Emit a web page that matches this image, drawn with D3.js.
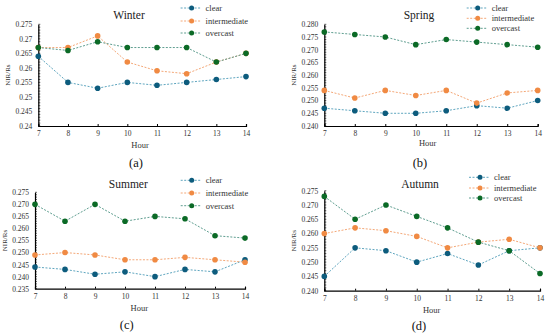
<!DOCTYPE html>
<html><head><meta charset="utf-8">
<script src="https://cdn.jsdelivr.net/npm/d3@7/dist/d3.min.js"></script>
<style>body{margin:0;background:#fff}svg{display:block}</style>
</head><body><svg id="c" width="550" height="336" font-family="'Liberation Serif', 'Times New Roman', Times, serif"></svg>
<script>
const hours = [7, 8, 9, 10, 11, 12, 13, 14];
const seriesNames = ["clear", "intermediate", "overcast"];
const seasons = ["Winter", "Spring", "Summer", "Autumn"];
const panelLabels = ["(a)", "(b)", "(c)", "(d)"];

const winterClear = [0.264, 0.255, 0.253, 0.255, 0.254, 0.255, 0.256, 0.257];
const winterIntermediate = [0.267, 0.267, 0.271, 0.262, 0.259, 0.258, 0.262, 0.265];
const winterOvercast = [0.267, 0.266, 0.269, 0.267, 0.267, 0.267, 0.262, 0.265];

const springClear = [0.247, 0.246, 0.245, 0.245, 0.246, 0.248, 0.247, 0.250];
const springIntermediate = [0.254, 0.251, 0.254, 0.252, 0.254, 0.249, 0.253, 0.254];
const springOvercast = [0.277, 0.276, 0.275, 0.272, 0.274, 0.273, 0.272, 0.271];

const summerClear = [0.244, 0.243, 0.241, 0.242, 0.240, 0.243, 0.242, 0.247];
const summerIntermediate = [0.249, 0.250, 0.249, 0.247, 0.247, 0.248, 0.247, 0.246];
const summerOvercast = [0.270, 0.263, 0.270, 0.263, 0.265, 0.264, 0.257, 0.256];

const autumnClear = [0.245, 0.255, 0.254, 0.250, 0.253, 0.249, 0.254, 0.255];
const autumnIntermediate = [0.260, 0.262, 0.261, 0.259, 0.255, 0.257, 0.258, 0.255];
const autumnOvercast = [0.273, 0.265, 0.270, 0.266, 0.262, 0.257, 0.254, 0.246];

const yDomains = [[0.240, 0.275], [0.240, 0.280], [0.235, 0.275], [0.240, 0.275]];
const yTickFormats = ["~g", ".3f", ".3f", ".3f"];

const seasonData = [
  [winterClear, winterIntermediate, winterOvercast],
  [springClear, springIntermediate, springOvercast],
  [summerClear, summerIntermediate, summerOvercast],
  [autumnClear, autumnIntermediate, autumnOvercast]
];

const markerColors = ["#0d5c7d", "#f08a43", "#0b6a26"];
const lineColors = ["#5fa6bf", "#f4a878", "#5f9e90"];
const FONT = "'Liberation Serif', 'Times New Roman', Times, serif";

const layouts = [
  {x0: 38.3, x1: 246, yT: 24.3, yB: 126, tx: 129, ty: 15, lx: 191.6, ly: [8, 21, 33], hx: 140, hy: 145.5, px: 136, py: 163},
  {x0: 324.3, x1: 537.7, yT: 24.3, yB: 126, tx: 419, ty: 15, lx: 477.7, ly: [8, 18.3, 28.3], hx: 427.7, hy: 142.7, px: 420, py: 162.7},
  {x0: 35, x1: 245, yT: 192.3, yB: 288.7, tx: 128.3, ty: 184, lx: 191.7, ly: [180.3, 193, 205.7], hx: 139.3, hy: 308, px: 126.7, py: 324.7},
  {x0: 324.3, x1: 540, yT: 190.7, yB: 290.7, tx: 420, ty: 184, lx: 480, ly: [177.3, 188, 198], hx: 431.7, hy: 309.7, px: 419, py: 326}
];

const svg = d3.select("#c");

seasons.forEach((season, i) => {
  const L = layouts[i];
  const g = svg.append("g");
  const x = d3.scaleLinear().domain([7, 14]).range([L.x0, L.x1]);
  const y = d3.scaleLinear().domain(yDomains[i]).range([L.yB, L.yT]);
  const fmt = d3.format(yTickFormats[i]);
  const [d0, d1] = yDomains[i];
  const majorTicks = d3.range(Math.round((d1 - d0) / 0.005) + 1).map(k => +(d0 + k * 0.005).toFixed(3));
  const minorTicks = d3.range(Math.round((d1 - d0) / 0.001) + 1).map(k => +(d0 + k * 0.001).toFixed(3));

  const yAxis = g.append("g").attr("transform", `translate(${L.x0},0)`)
    .call(d3.axisLeft(y).tickValues(majorTicks).tickFormat(fmt).tickSize(0).tickPadding(6));
  yAxis.attr("font-family", FONT);
  yAxis.select(".domain").attr("stroke", "#000").attr("stroke-width", 1.2);
  yAxis.selectAll("text").attr("font-size", 7.5).attr("fill", "#333");
  g.append("g").selectAll("line").data(minorTicks).join("line")
    .attr("x1", L.x0).attr("x2", L.x0 + 2).attr("y1", d => y(d)).attr("y2", d => y(d))
    .attr("stroke", "#000").attr("stroke-width", 0.6);

  const xAxis = g.append("g").attr("transform", `translate(0,${L.yB})`)
    .call(d3.axisBottom(x).tickValues(hours).tickFormat(d3.format("d")).tickSize(-2).tickPadding(5));
  xAxis.attr("font-family", FONT);
  xAxis.select(".domain").attr("stroke", "#000").attr("stroke-width", 1.2);
  xAxis.selectAll(".tick line").attr("stroke", "#000");
  xAxis.selectAll("text").attr("font-size", 7.5).attr("fill", "#333");

  g.append("text").attr("transform", `translate(${L.x0 - 28},${(L.yT + L.yB) / 2}) rotate(-90)`)
    .attr("text-anchor", "middle").attr("font-size", 7).attr("font-family", FONT).attr("fill", "#333").text("NIR/Rs");

  g.append("text").attr("x", L.tx).attr("y", L.ty).attr("dy", "0.35em").attr("text-anchor", "middle")
    .attr("font-size", 11.5).attr("font-family", FONT).attr("fill", "#222").text(season);
  g.append("text").attr("x", L.hx).attr("y", L.hy).attr("dy", "0.35em").attr("text-anchor", "middle")
    .attr("font-size", 8.5).attr("font-family", FONT).attr("fill", "#333").text("Hour");
  g.append("text").attr("x", L.px).attr("y", L.py).attr("dy", "0.35em").attr("text-anchor", "middle")
    .attr("font-size", 12.5).attr("font-family", FONT).attr("fill", "#111").text(panelLabels[i]);

  const line = d3.line().x((d, k) => x(hours[k])).y(d => y(d));
  seasonData[i].forEach((vals, s) => {
    g.append("path").datum(vals).attr("d", line).attr("fill", "none")
      .attr("stroke", lineColors[s]).attr("stroke-width", 1).attr("stroke-dasharray", "2,1.5");
    g.append("g").selectAll("circle").data(vals).join("circle")
      .attr("cx", (d, k) => x(hours[k])).attr("cy", d => y(d)).attr("r", 2.8)
      .attr("fill", markerColors[s]);
  });

  seriesNames.forEach((name, s) => {
    const ly = L.ly[s];
    g.append("line").attr("x1", L.lx - 11).attr("x2", L.lx + 10).attr("y1", ly).attr("y2", ly)
      .attr("stroke", lineColors[s]).attr("stroke-width", 1).attr("stroke-dasharray", "2,1.5");
    g.append("circle").attr("cx", L.lx).attr("cy", ly).attr("r", 2.5).attr("fill", markerColors[s]);
    g.append("text").attr("x", L.lx + 14).attr("y", ly).attr("dy", "0.35em").attr("font-size", 8.5)
      .attr("font-family", FONT).attr("fill", "#333").text(name);
  });
});
</script></body></html>
